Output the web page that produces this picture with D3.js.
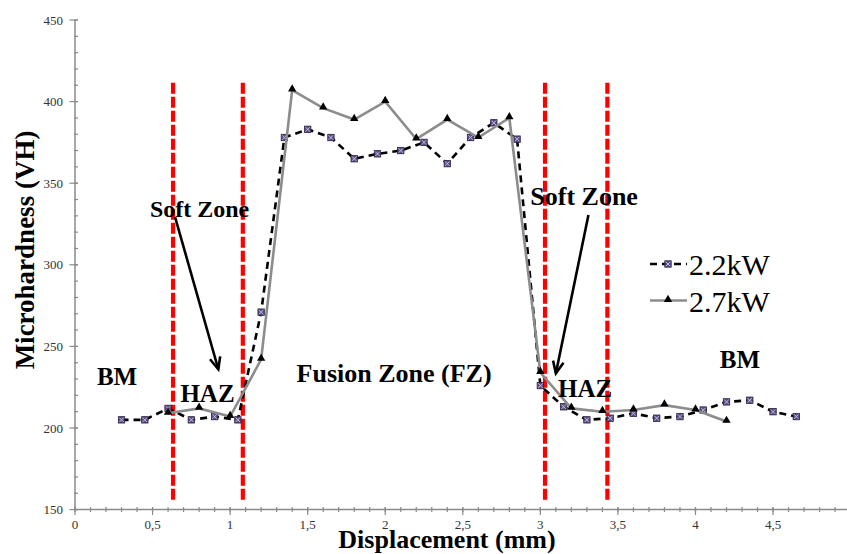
<!DOCTYPE html>
<html>
<head>
<meta charset="utf-8">
<script src="https://cdn.jsdelivr.net/npm/d3@7"></script>
<style>
  body { margin: 0; background: #fff; }
  svg text { font-family: "Liberation Serif", "Times New Roman", serif; }
</style>
</head>
<body>
<svg id="chart" width="847" height="554"></svg>
<script>
// data
const x22 = [0.3, 0.45, 0.6, 0.75, 0.9, 1.05, 1.2, 1.35, 1.5, 1.65, 1.8, 1.95, 2.1, 2.25, 2.4,
  2.55, 2.7, 2.85, 3.0, 3.15, 3.3, 3.45, 3.6, 3.75, 3.9, 4.05, 4.2, 4.35, 4.5, 4.65]
const y22 = [205, 205, 212, 205, 207, 205, 271, 378, 383, 378, 365, 368, 370, 375, 362,
  378, 387, 377, 226, 213, 205, 206, 209, 206, 207, 211, 216, 217, 210, 207]
const x27 = [0.6, 0.8, 1.0, 1.2, 1.4, 1.6, 1.8, 2.0, 2.2, 2.4, 2.6, 2.8, 3.0, 3.2, 3.4, 3.6, 3.8, 4.0, 4.2]
const y27 = [209, 212, 207, 242, 407, 396, 389, 400, 377, 389, 378, 390, 234, 212, 210, 211, 214, 211, 204]

const seriesNames = ['2.2kW', '2.7kW']
const zoneLines = [0.632, 1.082, 3.03, 3.432]   // red dashed borders
const zoneLineRange = [156, 413]

const xMajor = [0, 0.5, 1, 1.5, 2, 2.5, 3, 3.5, 4, 4.5]
const yMajor = [150, 200, 250, 300, 350, 400, 450]

// labels: [text, x, y, size]
const zoneLabels = [
  ['Soft Zone', 0.803, 329.3, 24],
  ['Soft Zone', 3.282, 336.6, 26],
  ['BM', 0.271, 226.3, 25],
  ['HAZ', 0.854, 216.1, 25],
  ['Fusion Zone (FZ)', 2.057, 228.4, 26],
  ['HAZ', 3.288, 219, 25],
  ['BM', 4.287, 236.6, 25]
]
// arrows: [x0, y0, x1, y1] in data units
const arrows = [
  [0.645, 329.3, 0.924, 236],
  [3.31, 330.5, 3.10, 233.5]
]

const svg = d3.select('#chart')
const x = d3.scaleLinear().domain([0, 5]).range([75, 850.6])
const y = d3.scaleLinear().domain([150, 450]).range([509.6, 20])

const axisColor = '#8a8a8a'
const serif = '"Liberation Serif", "Times New Roman", serif'
const fmt = d => String(d).replace('.', ',')

// y axis
const gy = svg.append('g').attr('transform', `translate(${x(0)},0)`)
gy.append('line').attr('y1', y(150)).attr('y2', y(450)).attr('stroke', axisColor).attr('stroke-width', 1.5)
gy.selectAll('.minor').data(d3.range(150, 451, 10)).join('line')
  .attr('x1', -1).attr('x2', 3).attr('y1', d => y(d)).attr('y2', d => y(d))
  .attr('stroke', axisColor).attr('stroke-width', 1.2)
gy.selectAll('.major').data(yMajor).join('line')
  .attr('x1', -5.5).attr('x2', 3).attr('y1', d => y(d)).attr('y2', d => y(d))
  .attr('stroke', axisColor).attr('stroke-width', 1.2)
gy.selectAll('text').data(yMajor).join('text')
  .attr('x', -12).attr('y', d => y(d) + 4.5)
  .attr('text-anchor', 'end').attr('font-size', 13).attr('fill', '#333').attr('font-family', serif)
  .text(d => d)

// x axis
const gx = svg.append('g').attr('transform', `translate(0,${y(150)})`)
gx.append('line').attr('x1', x(0)).attr('x2', 847).attr('stroke', axisColor).attr('stroke-width', 1.5)
gx.selectAll('.minor').data(d3.range(0, 51).map(i => i / 10)).join('line')
  .attr('x1', d => x(d)).attr('x2', d => x(d)).attr('y1', -2.5).attr('y2', 2.5)
  .attr('stroke', axisColor).attr('stroke-width', 1.2)
gx.selectAll('.major').data(xMajor).join('line')
  .attr('x1', d => x(d)).attr('x2', d => x(d)).attr('y1', -2.5).attr('y2', 5.5)
  .attr('stroke', axisColor).attr('stroke-width', 1.2)
gx.selectAll('text').data(xMajor).join('text')
  .attr('x', d => x(d)).attr('y', 19)
  .attr('text-anchor', 'middle').attr('font-size', 13).attr('fill', '#333').attr('font-family', serif)
  .text(fmt)

// axis titles
svg.append('text')
  .attr('x', 447).attr('y', 548)
  .attr('text-anchor', 'middle').attr('font-size', 26).attr('font-weight', 'bold').attr('font-family', serif)
  .text('Displacement (mm)')
svg.append('text')
  .attr('transform', 'translate(34,250) rotate(-90)')
  .attr('text-anchor', 'middle').attr('font-size', 27).attr('font-weight', 'bold').attr('font-family', serif)
  .text('Microhardness (VH)')

// red zone borders
svg.selectAll('.zone').data(zoneLines).join('line')
  .attr('x1', d => x(d)).attr('x2', d => x(d))
  .attr('y1', y(zoneLineRange[0])).attr('y2', y(zoneLineRange[1]))
  .attr('stroke', '#ff0000').attr('stroke-width', 4.2).attr('stroke-dasharray', '11,3')

// series
const pts22 = x22.map((v, i) => [v, y22[i]])
const pts27 = x27.map((v, i) => [v, y27[i]])
const line = d3.line().x(d => x(d[0])).y(d => y(d[1]))

svg.append('path').datum(pts22).attr('d', line)
  .attr('fill', 'none').attr('stroke', '#000').attr('stroke-width', 2.6).attr('stroke-dasharray', '7,5')

function squareMarker(g) {
  g.append('rect').attr('x', -3.2).attr('y', -3.2).attr('width', 6.4).attr('height', 6.4)
    .attr('fill', '#5e4f86').attr('stroke', '#2b2340').attr('stroke-width', 0.8)
  g.append('path').attr('d', 'M-2.2,-2.2L2.2,2.2M-2.2,2.2L2.2,-2.2')
    .attr('stroke', '#c9c2e6').attr('stroke-width', 0.9)
}
svg.selectAll('.m22').data(pts22).join('g')
  .attr('transform', d => `translate(${x(d[0])},${y(d[1])})`)
  .each(function () { squareMarker(d3.select(this)) })

svg.append('path').datum(pts27).attr('d', line)
  .attr('fill', 'none').attr('stroke', '#8c8c8c').attr('stroke-width', 2.6)

const tri = d3.symbol().type(d3.symbolTriangle).size(30)
svg.selectAll('.m27').data(pts27).join('path')
  .attr('d', tri)
  .attr('transform', d => `translate(${x(d[0])},${y(d[1]) - 1})`)
  .attr('fill', '#000')

// zone labels
svg.selectAll('.zlabel').data(zoneLabels).join('text')
  .attr('x', d => x(d[1])).attr('y', d => y(d[2]))
  .attr('text-anchor', 'middle').attr('font-weight', 'bold').attr('font-size', d => d[3])
  .attr('font-family', serif)
  .text(d => d[0])

// arrows
arrows.forEach(a => {
  const [x0, y0, x1, y1] = [x(a[0]), y(a[1]), x(a[2]), y(a[3])]
  const ang = Math.atan2(y1 - y0, x1 - x0)
  const len = 13, spread = 0.42
  svg.append('line').attr('x1', x0).attr('y1', y0).attr('x2', x1).attr('y2', y1)
    .attr('stroke', '#000').attr('stroke-width', 2.6)
  svg.append('path')
    .attr('d', `M${x1 - len * Math.cos(ang - spread)},${y1 - len * Math.sin(ang - spread)}L${x1},${y1}L${x1 - len * Math.cos(ang + spread)},${y1 - len * Math.sin(ang + spread)}`)
    .attr('fill', 'none').attr('stroke', '#000').attr('stroke-width', 2.6)
})

// legend
const legend = svg.append('g').attr('transform', 'translate(650,264)')
seriesNames.forEach((name, i) => {
  const g = legend.append('g').attr('transform', `translate(0,${i * 36.5})`)
  if (i === 0) {
    g.append('line').attr('x1', 0).attr('x2', 37).attr('stroke', '#000')
      .attr('stroke-width', 2.6).attr('stroke-dasharray', '7,5')
    const m = g.append('g').attr('transform', 'translate(18,0)')
    squareMarker(m)
  } else {
    g.append('line').attr('x1', 0).attr('x2', 37).attr('stroke', '#8c8c8c').attr('stroke-width', 2.6)
    g.append('path').attr('d', tri).attr('transform', 'translate(18,-1)').attr('fill', '#000')
  }
  g.append('text').attr('x', 39).attr('y', 11).attr('font-size', 30).attr('font-family', serif).text(name)
})
</script>
</body>
</html>
